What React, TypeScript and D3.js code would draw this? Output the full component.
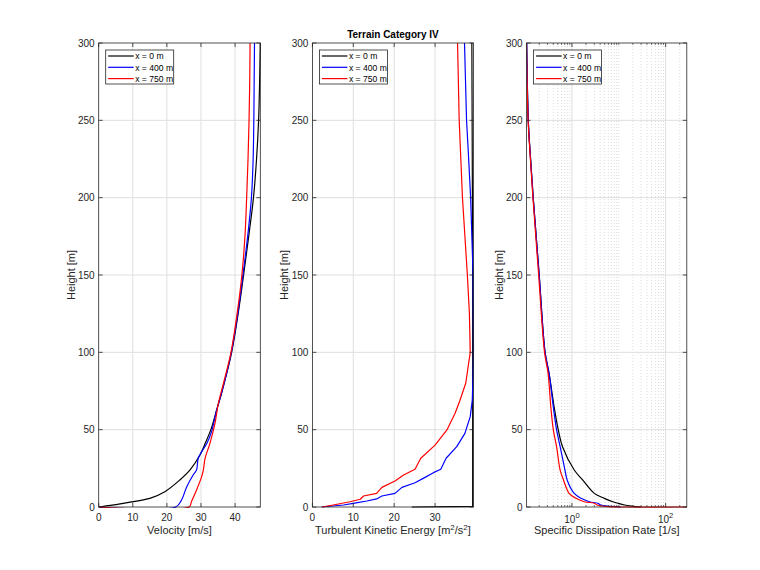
import React from 'react';
import * as d3 from 'd3';

// ---------- data ----------
const heightTicks = [0, 50, 100, 150, 200, 250, 300];
const velocityTicks = [0, 10, 20, 30, 40];
const tkeTicks = [0, 10, 20, 30];
const omegaMajorTicks = [1, 100];
const legendLabels = ['x = 0 m', 'x = 400 m', 'x = 750 m'];
const seriesColors = ['#000000', '#0000ff', '#ff0000'];
const titleText = 'Terrain Category IV';

// Velocity [m/s]
const velH0 = [0, 0.6, 1.2, 2.4, 5.6, 9.9, 17.5, 24, 33.6, 41, 50, 62.7, 75, 100, 125, 150, 175, 200, 225, 250, 275, 300];
const velV0 = [0, 1.8, 4, 7.2, 15, 19.4, 23.8, 26.8, 29.7, 31.2, 32.9, 34.6, 36.2, 39, 40.9, 42.5, 44, 45.4, 46.3, 46.9, 47.2, 47.4];
const velH400 = [0, 0, 4.5, 13, 20.7, 24, 31.5, 35.7, 41, 48.7, 62.7, 75, 100, 125, 150, 175, 200, 225, 250, 275, 300];
const velV400 = [0, 22.6, 24.3, 25.8, 27.7, 28.7, 29.2, 30.2, 31.7, 33.1, 34.6, 36.2, 38.9, 40.8, 42.3, 43.7, 44.8, 45.3, 45.5, 45.6, 45.7];
const velH750 = [0, 0, 3.4, 11, 19.6, 24, 31.5, 41, 54, 67, 80, 100, 125, 150, 175, 200, 225, 250, 275, 300];
const velV750 = [0, 26.5, 27.2, 28.7, 30.2, 30.7, 31.2, 32.6, 34.1, 35.1, 36.6, 38.8, 40.6, 42, 42.9, 43.4, 43.8, 44.1, 44.3, 44.4];

// Turbulent kinetic energy [m2/s2]
const tkeH0 = [0, 0.4, 150, 300];
const tkeK0 = [24.3, 39.2, 39.2, 39.0];
const tkeH400 = [0, 1.3, 2.4, 3.9, 5.2, 7.1, 8.8, 12.7, 15.7, 18.5, 22.2, 24.4, 31.5, 39, 47.6, 58.4, 69, 85, 101, 150, 200, 231, 250, 300];
const tkeK400 = [2.3, 7.6, 10, 13.3, 15.7, 17, 20.2, 21.9, 25.1, 27.1, 29.6, 31.4, 32.7, 35.3, 37.3, 38.6, 39.1, 39.3, 39.4, 39.3, 38.7, 38.1, 37.7, 37.2];
const tkeH750 = [0, 1.3, 3.4, 5, 7.1, 8.8, 12.7, 16.8, 20.7, 24.4, 31.5, 40, 49.8, 60.6, 69, 80, 100, 125, 150, 175, 200, 225, 250, 300];
const tkeK750 = [2.3, 5.1, 9.2, 11.7, 12.5, 15.7, 17, 20.2, 22.3, 25.1, 26.5, 30, 32.9, 34.9, 36.1, 37.5, 38.6, 38.4, 37.9, 37.3, 36.7, 36.3, 35.9, 35.5];

// Specific dissipation rate [1/s]
const omgH0 = [0, 0.6, 1.3, 2.4, 3.4, 5.6, 8.8, 17.5, 23.9, 39, 50, 64.8, 86.4, 100, 150, 200, 231, 250, 300];
const omgW0 = [30, 19, 13.3, 9.6, 7.5, 4.9, 3.0, 1.69, 1.12, 0.63, 0.51, 0.416, 0.325, 0.267, 0.2, 0.149, 0.127, 0.117, 0.108];
const omgH400 = [0, 1.3, 2.4, 3.4, 5.6, 8.8, 17.5, 23.9, 39, 50, 64.8, 86.4, 100, 150, 200, 231, 250, 300];
const omgW400 = [11, 4.1, 3.55, 2.36, 1.56, 1.12, 0.79, 0.71, 0.56, 0.47, 0.4, 0.325, 0.267, 0.2, 0.149, 0.127, 0.117, 0.108];
const omgH750 = [0, 0, 0.2, 1.3, 2.4, 3.4, 5.6, 8.8, 17.5, 23.9, 39, 50, 64.8, 86.4, 100, 150, 200, 231, 250, 300];
const omgW750 = [283, 11, 6, 3.45, 3.0, 1.84, 1.22, 0.87, 0.66, 0.56, 0.47, 0.4, 0.354, 0.31, 0.26, 0.195, 0.147, 0.126, 0.116, 0.107];

// ---------- layout ----------
const W = 760;
const H = 570;
const TOP = 43;
const BOTTOM = 507;
const FONT = 'Liberation Sans, Arial, Helvetica, sans-serif';
const AXIS = '#262626';
const GRID = '#dfdfdf';
const MINOR = '#c4c4c4';

const yScale = d3.scaleLinear().domain([0, 300]).range([BOTTOM, TOP]);

type Series = { h: number[]; v: number[]; color: string };

function makeSeries(hs: number[][], vs: number[][]): Series[] {
  return hs.map((h, i) => ({ h, v: vs[i], color: seriesColors[i] }));
}

const velSeries = makeSeries([velH0, velH400, velH750], [velV0, velV400, velV750]);
const tkeSeries = makeSeries([tkeH0, tkeH400, tkeH750], [tkeK0, tkeK400, tkeK750]);
const omgSeries = makeSeries([omgH0, omgH400, omgH750], [omgW0, omgW400, omgW750]);

type PanelProps = {
  id: string;
  x0: number;
  x1: number;
  xScale: any;
  majorTicks: number[];
  minorTicks?: number[];
  tickLabel: (v: number) => React.ReactNode;
  xLabel: React.ReactNode;
  series: Series[];
  curve: any;
};

function Panel({ id, x0, x1, xScale, majorTicks, minorTicks = [], tickLabel, xLabel, series, curve }: PanelProps) {
  const line = d3
    .line<[number, number]>()
    .x((d) => xScale(d[0]))
    .y((d) => yScale(d[1]))
    .curve(curve);
  const pw = x1 - x0;
  return (
    <g>
      <defs>
        <clipPath id={`clip-${id}`}>
          <rect x={x0} y={TOP - 1} width={pw + 1} height={BOTTOM - TOP + 2} />
        </clipPath>
      </defs>
      <rect x={x0} y={TOP} width={pw} height={BOTTOM - TOP} fill="#fff" />
      {minorTicks.map((t) => (
        <line key={`mg${t}`} x1={xScale(t)} x2={xScale(t)} y1={TOP} y2={BOTTOM} stroke={MINOR} strokeWidth={0.6} strokeDasharray="1 2" />
      ))}
      {majorTicks
        .filter((t) => xScale(t) > x0 + 1 && xScale(t) < x1 - 1)
        .map((t) => (
          <line key={`g${t}`} x1={xScale(t)} x2={xScale(t)} y1={TOP} y2={BOTTOM} stroke={GRID} strokeWidth={1} />
        ))}
      {heightTicks
        .filter((t) => t > 0 && t < 300)
        .map((t) => (
          <line key={`hg${t}`} x1={x0} x2={x1} y1={yScale(t)} y2={yScale(t)} stroke={GRID} strokeWidth={1} />
        ))}
      <g clipPath={`url(#clip-${id})`}>
        {series.map((s, i) => (
          <path
            key={i}
            d={line(s.v.map((v, j) => [v, s.h[j]] as [number, number])) || ''}
            fill="none"
            stroke={s.color}
            strokeWidth={1.2}
            strokeLinejoin="round"
          />
        ))}
      </g>
      <rect x={x0} y={TOP} width={pw} height={BOTTOM - TOP} fill="none" stroke={AXIS} strokeWidth={0.8} />
      {majorTicks.map((t) => (
        <g key={`xt${t}`}>
          <line x1={xScale(t)} x2={xScale(t)} y1={BOTTOM} y2={BOTTOM - 4} stroke={AXIS} strokeWidth={0.8} />
          <line x1={xScale(t)} x2={xScale(t)} y1={TOP} y2={TOP + 4} stroke={AXIS} strokeWidth={0.8} />
          <text x={xScale(t)} y={BOTTOM + 14} textAnchor="middle" fontSize={10} fill={AXIS} fontFamily={FONT}>
            {tickLabel(t)}
          </text>
        </g>
      ))}
      {minorTicks.map((t) => (
        <g key={`mt${t}`}>
          <line x1={xScale(t)} x2={xScale(t)} y1={BOTTOM} y2={BOTTOM - 2} stroke={AXIS} strokeWidth={0.6} />
          <line x1={xScale(t)} x2={xScale(t)} y1={TOP} y2={TOP + 2} stroke={AXIS} strokeWidth={0.6} />
        </g>
      ))}
      {heightTicks.map((t) => (
        <g key={`yt${t}`}>
          <line x1={x0} x2={x0 + 4} y1={yScale(t)} y2={yScale(t)} stroke={AXIS} strokeWidth={0.8} />
          <line x1={x1} x2={x1 - 4} y1={yScale(t)} y2={yScale(t)} stroke={AXIS} strokeWidth={0.8} />
          <text x={x0 - 4} y={yScale(t) + 3.5} textAnchor="end" fontSize={10} fill={AXIS} fontFamily={FONT}>
            {t}
          </text>
        </g>
      ))}
      <text x={(x0 + x1) / 2} y={BOTTOM + 27} textAnchor="middle" fontSize={11} fill={AXIS} fontFamily={FONT}>
        {xLabel}
      </text>
      <text
        transform={`translate(${x0 - 24},${(TOP + BOTTOM) / 2}) rotate(-90)`}
        textAnchor="middle"
        fontSize={11}
        fill={AXIS}
        fontFamily={FONT}
      >
        Height [m]
      </text>
      <g>
        <rect x={x0 + 7} y={50} width={68} height={34} fill="#fff" stroke={AXIS} strokeWidth={0.8} />
        {legendLabels.map((lab, i) => (
          <g key={lab}>
            <line x1={x0 + 9.5} x2={x0 + 35} y1={56 + i * 11.3} y2={56 + i * 11.3} stroke={seriesColors[i]} strokeWidth={1.2} />
            <text x={x0 + 36.5} y={56 + i * 11.3 + 3.2} fontSize={8.6} fill="#000" fontFamily={FONT}>
              {lab}
            </text>
          </g>
        ))}
      </g>
    </g>
  );
}

export default function App() {
  const p1 = { x0: 98.7, x1: 260.3 };
  const p2 = { x0: 312.4, x1: 473.5 };
  const p3 = { x0: 526.6, x1: 686.8 };

  const xVel = d3.scaleLinear().domain([0, 47.4]).range([p1.x0, p1.x1]);
  const xTke = d3.scaleLinear().domain([0, 39.4]).range([p2.x0, p2.x1]);
  const xOmg = d3.scaleLog().domain([0.1077, 283]).range([p3.x0, p3.x1]);

  const omgMinor: number[] = [];
  for (let e = -1; e <= 2; e++) {
    for (let m = 1; m <= 9; m++) {
      const v = m * Math.pow(10, e);
      if (v > 0.1077 && v < 283 && !omegaMajorTicks.includes(v)) omgMinor.push(v);
    }
  }

  const smooth = d3.curveCatmullRom.alpha(0.5);

  return (
    <svg width={W} height={H} style={{ position: 'absolute', left: 0, top: 0, background: '#fff' }}>
      <rect x={0} y={0} width={W} height={H} fill="#fff" />
      <Panel
        id="vel"
        {...p1}
        xScale={xVel}
        majorTicks={velocityTicks}
        tickLabel={(v) => String(v)}
        xLabel="Velocity [m/s]"
        series={velSeries}
        curve={smooth}
      />
      <Panel
        id="tke"
        {...p2}
        xScale={xTke}
        majorTicks={tkeTicks}
        tickLabel={(v) => String(v)}
        xLabel={
          <>
            <tspan>Turbulent Kinetic Energy [m</tspan>
            <tspan dy={-4} fontSize={8}>2</tspan>
            <tspan dy={4}>/s</tspan>
            <tspan dy={-4} fontSize={8}>2</tspan>
            <tspan dy={4}>]</tspan>
          </>
        }
        series={tkeSeries}
        curve={d3.curveLinear}
      />
      <Panel
        id="omg"
        {...p3}
        xScale={xOmg}
        majorTicks={omegaMajorTicks}
        minorTicks={omgMinor}
        tickLabel={(v) => (
          <>
            <tspan dy={2}>10</tspan>
            <tspan dy={-5} fontSize={7.5}>{Math.round(Math.log10(v))}</tspan>
          </>
        )}
        xLabel="Specific Dissipation Rate [1/s]"
        series={omgSeries}
        curve={smooth}
      />
      <text x={(p2.x0 + p2.x1) / 2} y={38} textAnchor="middle" fontSize={10} fontWeight="bold" fill="#000" fontFamily={FONT}>
        {titleText}
      </text>
    </svg>
  );
}
